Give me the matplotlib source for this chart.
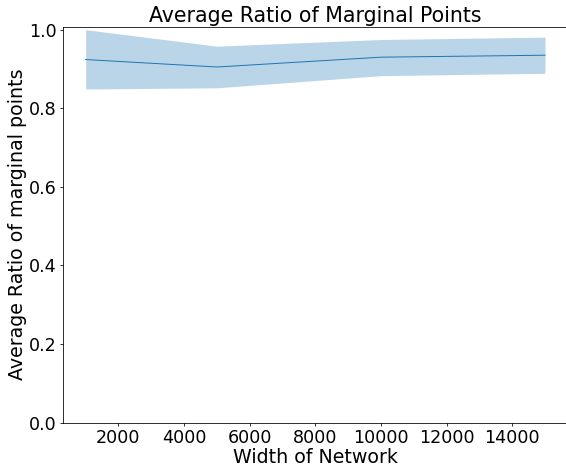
import matplotlib
matplotlib.use("Agg")
import matplotlib.pyplot as plt

# Ancho de la red y proporcion media de puntos marginales (con su banda)
anchos = [1000, 5000, 10000, 15000]
media = [0.924, 0.905, 0.930, 0.935]
limite_inf = [0.849, 0.852, 0.883, 0.889]
limite_sup = [1.000, 0.958, 0.975, 0.981]

fig = plt.figure(figsize=(566 / 72, 468 / 72), dpi=72)
ax = fig.add_axes([62.7 / 566, 45.3 / 468, 505.3 / 566, 396 / 468])

ax.plot(anchos, media, color="tab:blue", linewidth=1)
ax.fill_between(anchos, limite_inf, limite_sup, color="tab:blue", alpha=0.3, linewidth=0)
ax.set_ylim(bottom=0)

ax.set_title("Average Ratio of Marginal Points", fontsize=20.5, pad=5)
ax.set_xlabel("Width of Network", fontsize=19, labelpad=1.5)
ax.set_ylabel("Average Ratio of marginal points", fontsize=19, labelpad=2)
ax.tick_params(labelsize=17.5, length=3.3, pad=2.8)

fig.savefig("out.png", dpi=72)
